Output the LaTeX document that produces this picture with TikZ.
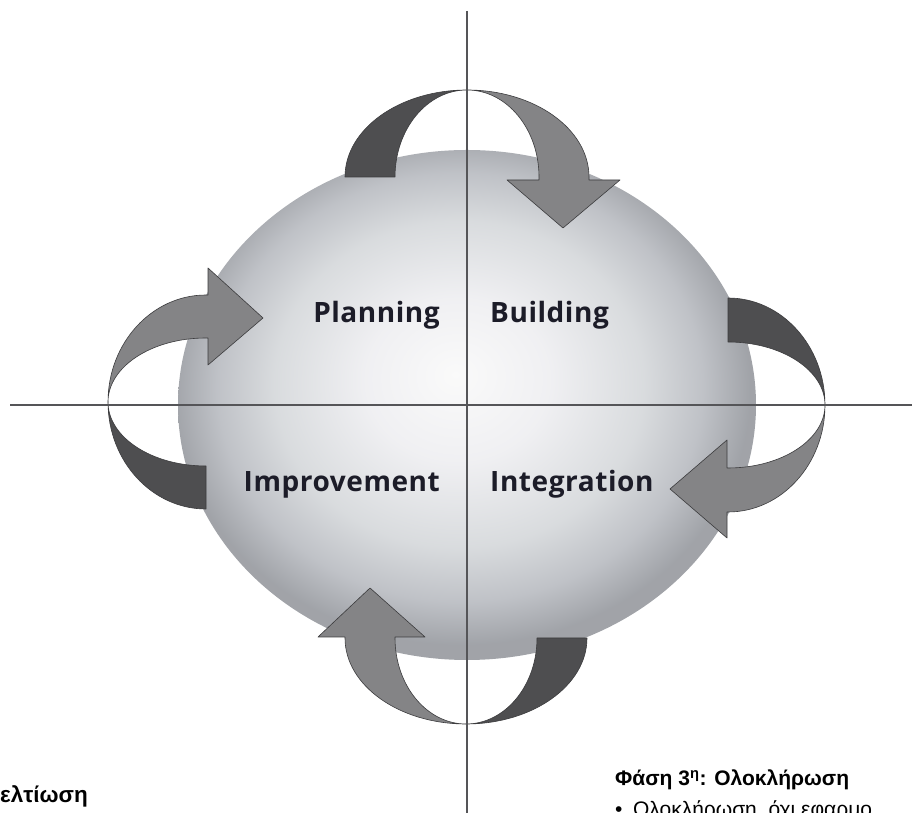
\documentclass[tikz,border=0pt]{standalone}
\usepackage{fontspec}
\newfontfamily\labfont[LetterSpace=2]{Open Sans}
\newfontfamily\arialfont{Liberation Sans}
\definecolor{darkrib}{RGB}{78,78,80}
\definecolor{lightrib}{RGB}{132,132,134}
\definecolor{ribline}{RGB}{60,60,62}
\definecolor{axisline}{RGB}{85,85,88}
\definecolor{labcol}{RGB}{28,28,40}
\pgfdeclareradialshading{sph}{\pgfpoint{-1bp}{3bp}}{rgb(0bp)=(0.98,0.98,0.98); rgb(8bp)=(0.94,0.94,0.95); rgb(16bp)=(0.85,0.86,0.87); rgb(21bp)=(0.75,0.76,0.78); rgb(25bp)=(0.63,0.64,0.66); rgb(50bp)=(0.63,0.64,0.66)}
\tikzset{
  darkpart/.style={fill=darkrib, draw=ribline, line width=0.6pt, line join=round},
  lightpart/.style={fill=lightrib, draw=ribline, line width=0.6pt, line join=round},
  axis/.style={draw=axisline, line width=1.2pt},
  quad/.style={font=\labfont\bfseries\fontsize{28}{32}\selectfont, text=labcol, inner sep=0pt},
  greekb/.style={font=\arialfont\bfseries\fontsize{21}{25}\selectfont, text=black, inner sep=0pt},
  greekr/.style={font=\arialfont\fontsize{21}{25}\selectfont, text=black, inner sep=0pt}
}
\begin{document}
\begin{tikzpicture}[x=1pt,y=1pt]
\useasboundingbox (0,0) rectangle (912,813);
\clip (0,0) rectangle (912,813);
\fill[white] (0,0) rectangle (912,813);
% sphere
\shade[shading=sph] (467,408) ellipse[x radius=289, y radius=255];
% top arrow
\path[darkpart] (345,636) arc[start angle=180, end angle=90, x radius=122, y radius=87]
   arc[start angle=90, end angle=180, x radius=72, y radius=87] -- cycle;
\path[lightpart] (467,723) arc[start angle=90, end angle=0, x radius=122, y radius=87]
   -- (589,633) -- (620,633) -- (563,585) -- (507,633) -- (539,633) -- (539,636)
   arc[start angle=0, end angle=90, x radius=72, y radius=87] -- cycle;
% right arrow
\path[darkpart] (728,515) arc[start angle=90, end angle=0, x radius=97, y radius=107]
   arc[start angle=0, end angle=90, x radius=97, y radius=63] -- cycle;
\path[lightpart] (825,408) arc[start angle=0, end angle=-90, x radius=97, y radius=107]
   -- (727,301) -- (727,275) -- (670,324) -- (727,373) -- (727,345) -- (728,345)
   arc[start angle=-90, end angle=0, x radius=97, y radius=63] -- cycle;
% left arrow
\path[lightpart] (206,518) arc[start angle=90, end angle=180, x radius=98, y radius=107]
   arc[start angle=180, end angle=90, x radius=98, y radius=64]
   -- (208,475) -- (208,448) -- (263,495) -- (208,545) -- (208,518) -- cycle;
\path[darkpart] (108,411) arc[start angle=180, end angle=270, x radius=98, y radius=107]
   -- (206,347) arc[start angle=270, end angle=180, x radius=98, y radius=64] -- cycle;
% bottom arrow
\path[lightpart] (345,175) arc[start angle=180, end angle=270, x radius=121, y radius=86]
   arc[start angle=270, end angle=180, x radius=71, y radius=86]
   -- (395,176) -- (425,176) -- (370,225) -- (318,176) -- (345,176) -- cycle;
\path[darkpart] (466,89) arc[start angle=270, end angle=360, x radius=121, y radius=86]
   -- (537,175) arc[start angle=0, end angle=-90, x radius=71, y radius=86] -- cycle;
% axes
\coordinate (hl) at (10,408);
\coordinate (hr) at (912,408);
\coordinate (vt) at (467,802);
\coordinate (vb) at (467,0);
\draw[axis] (hl) -- (hr);
\draw[axis] (vt) -- (vb);
% labels
\node[quad, anchor=base east] (plan) at (440,490) {Planning};
\node[quad, anchor=base west] (build) at (490,490) {Building};
\node[quad, anchor=base east] (impr) at (440,321) {Improvement};
\node[quad, anchor=base west] (integ) at (490,321) {Integration};
% bottom texts
\node[greekb, anchor=base east, font=\arialfont\bfseries\fontsize{22.5}{26}\selectfont] (belt) at (88,10) {ελτίωση};
\node[greekb, anchor=base west] (phase3) at (615,27) {Φάση 3\textsuperscript{η}: Ολοκλήρωση};
\node[greekr, anchor=base west] (bul) at (615,-4) {•\hspace{0.5em}Ολοκλήρωση, όχι εφαρμο};
\end{tikzpicture}
\end{document}
